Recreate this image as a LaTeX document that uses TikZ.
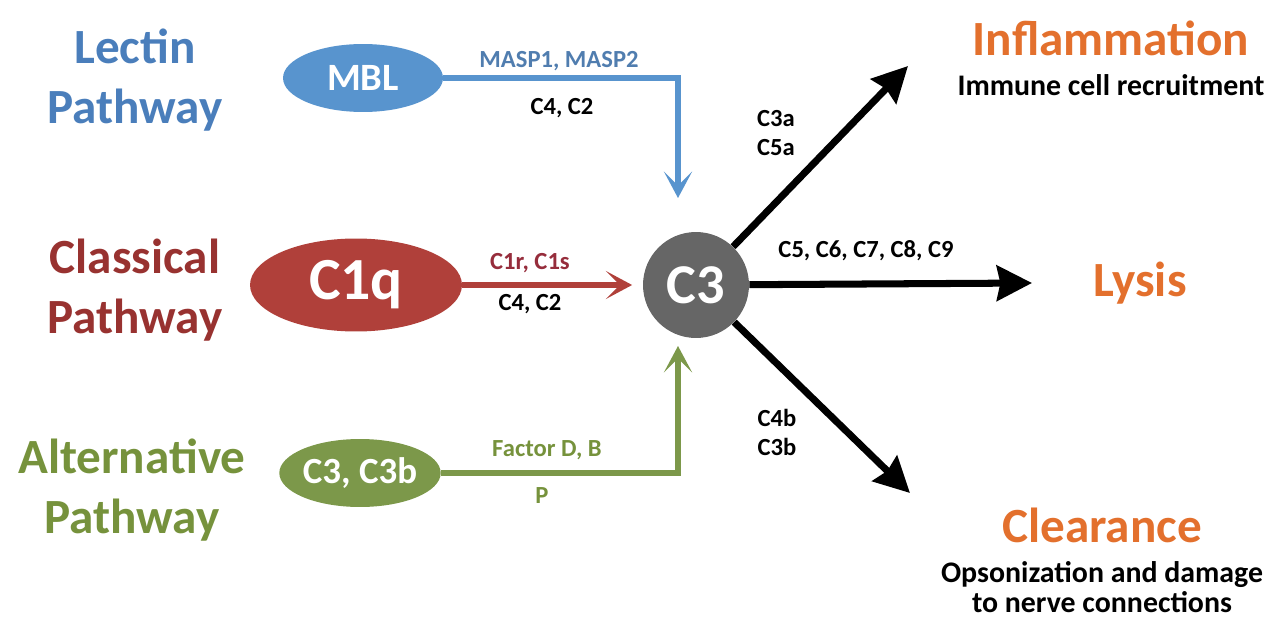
\documentclass[tikz,border=0pt]{standalone}
\usepackage{fontspec}
\setmainfont{Carlito}
\usetikzlibrary{arrows.meta,shapes.geometric}

\definecolor{lectintxt}{RGB}{74,126,187}
\definecolor{lectinfill}{RGB}{88,148,206}
\definecolor{lectinlbl}{RGB}{80,125,175}
\definecolor{classtxt}{RGB}{152,50,48}
\definecolor{classfill}{RGB}{176,64,58}
\definecolor{classlbl}{RGB}{150,45,60}
\definecolor{alttxt}{RGB}{118,146,60}
\definecolor{altfill}{RGB}{124,152,74}
\definecolor{effect}{RGB}{227,112,45}
\definecolor{hub}{RGB}{102,102,102}

\begin{document}
\begin{tikzpicture}[x=0.02cm, y=-0.02cm,
        title/.style={font=\bfseries\fontsize{28}{34}\selectfont, align=center},
        sub/.style={font=\bfseries\fontsize{17}{17.5}\selectfont, align=center},
        lbl/.style={font=\bfseries\fontsize{14}{16.5}\selectfont, align=left},
        src/.style={ellipse, inner sep=0pt, text=white},
        feed/.style={line width=3.4pt, -{Stealth[length=15pt, width=16pt, inset=8pt]}},
        fate/.style={line width=4pt, -{Stealth[length=20pt, width=20pt, inset=2pt]}}
      ]
      \useasboundingbox (0, 0) rectangle (1270, 618);

      % left side
      \node[title, text=lectintxt] at (135, 80) (lectin) {Lectin\\Pathway};
      \node[title, text=classtxt] at (135, 290) (classical) {Classical\\Pathway};
      \node[title, text=alttxt] at (132, 490) (alternative) {Alternative\\Pathway};

      \node[src, fill=lectinfill, minimum width=3.2cm, minimum height=1.36cm,
        font=\bfseries\fontsize{22}{22}\selectfont] at (363, 78) (mbl) {MBL};
      \node[src, fill=classfill, minimum width=4.24cm, minimum height=1.86cm,
        font=\bfseries\fontsize{34}{34}\selectfont] at (356, 285) (c1q) {C1q};
      \node[src, fill=altfill, minimum width=3.1cm, minimum height=1.36cm,
        font=\bfseries\fontsize{21}{21}\selectfont] at (360, 473) (c3b) {C3, C3b};

      % middle
      \node[circle, fill=hub, text=white, minimum size=2.12cm, inner sep=0pt,
        font=\bfseries\fontsize{32}{32}\selectfont] at (696, 285) (c3) {C3};
      \coordinate (lectin in) at (678, 198);
      \coordinate (alt in) at (678, 346);

      % right side
      \node[title, text=effect] at (1111, 38) (inflammation) {Inflammation};
      \node[sub] at (1111, 85) (recruit) {Immune cell recruitment};
      \node[title, text=effect] at (1140, 283) (lysis) {Lysis};
      \node[title, text=effect] at (1102, 525) (clearance) {Clearance};
      \node[sub] at (1102, 587) (opson) {Opsonization and damage\\to nerve connections};
      \coordinate (up tip) at (908, 66);
      \coordinate (mid tip) at (1032, 283);
      \coordinate (down tip) at (910, 493);

      % edges
      \draw[feed, draw=lectinfill] (mbl.east) -| (lectin in);
      \draw[feed, draw=classfill, shorten >=6pt] (c1q.east) -- (c3.west);
      \draw[feed, draw=altfill] (c3b.east) -| (alt in);
      \draw[fate] (c3) -- (up tip);
      \draw[fate] (c3) -- (mid tip);
      \draw[fate] (c3) -- (down tip);

      % labels
      \draw (559, 61) node[lbl, text=lectinlbl] {MASP1, MASP2};
      \draw (562, 108) node[lbl] {C4, C2};
      \draw (530, 263) node[lbl, text=classlbl] {C1r, C1s};
      \draw (530, 304) node[lbl] {C4, C2};
      \draw (547, 450) node[lbl, text=alttxt] {Factor D, B};
      \draw (542, 496) node[lbl, text=alttxt] {P};
      \draw (776, 133) node[lbl] {C3a\\C5a};
      \draw (866, 251) node[lbl] {C5, C6, C7, C8, C9};
      \draw (777, 432) node[lbl] {C4b\\C3b};
  \end{tikzpicture}
\end{document}
